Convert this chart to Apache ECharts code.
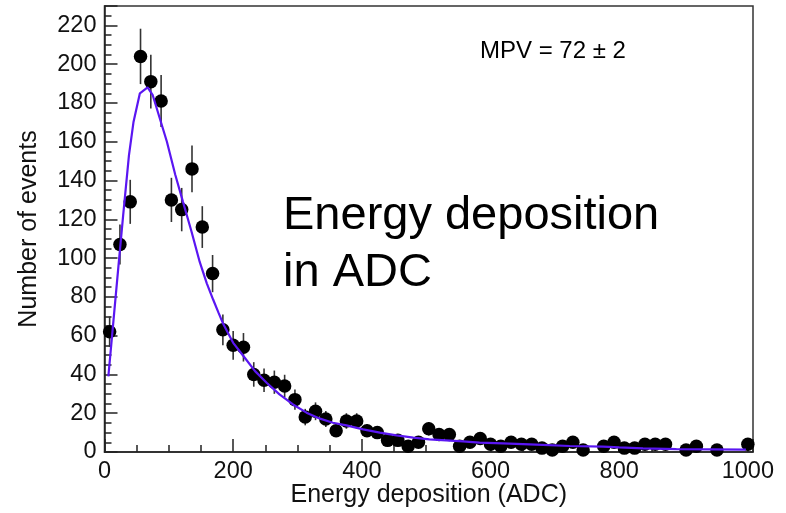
<!DOCTYPE html>
<html><head><meta charset="utf-8">
<script src="https://cdn.jsdelivr.net/npm/echarts@6/dist/echarts.min.js"></script>
<style>html,body{margin:0;padding:0;background:#fff}#c{width:786px;height:513px}</style>
</head><body><div id="c"></div>
<script>
// Histogram bin centres (ADC) and counts (null = empty bin)
const binCenters = [8,24,40,56,72,88,104,120,136,152,168,184,200,216,232,248,264,280,296,312,328,344,360,376,392,408,424,440,456,472,488,504,520,536,552,568,584,600,616,632,648,664,680,696,712,728,744,760,776,792,808,824,840,856,872,888,904,920,936,952,968,984,1000];
const counts = [62,107,129,204,191,181,130,125,146,116,92,63,55,54,40,37,36,34,27,18,21,17,11,16,16,11,10,6,6,3,5,12,9,9,3,5,7,4,3,5,4,4,2,1,3,5,1,null,3,5,2,2,4,4,4,null,1,3,null,1,null,null,4];
// Fit curve
const fitX = [6,14,22,29,38,45,55,67,75,86,97,110,122,135,148,159,169,177,185,200,218,234,252,272,293,314,335,355,376,402,428,454,480,505,531,557,583,619,671,723,775,800,837,889,940,997];
const fitY = [39,68,97,122,153,170,185,188,184,172,160,143,129,114,98,87,78.5,72,65.7,56.3,48.6,41.7,35.7,29.7,24.5,20.3,17.2,15.1,13.7,11.7,10,8.6,7.4,6.5,6,5.5,4.8,4.4,3.8,3.1,2.8,2.4,1.9,1.5,1.4,1.2];
const xTickLabels = [0,200,400,600,800,1000];
const yTickLabels = [0,20,40,60,80,100,120,140,160,180,200,220];

const FONT = '"Liberation Sans", Arial, Helvetica, sans-serif';
const points = [];
binCenters.forEach((x,i)=>{ if(counts[i]!==null) points.push([x,counts[i]]); });
const errData = points.map(p=>[p[0], p[1]-Math.sqrt(p[1]), p[1]+Math.sqrt(p[1])]);
const fitData = fitX.map((x,i)=>[x,fitY[i]]);

const axisCol = '#222';
const chart = echarts.init(document.getElementById('c'), null, {renderer:'canvas'});
chart.setOption({
  animation:false,
  backgroundColor:'#fff',
  grid:{left:104.5, right:33, top:6, bottom:60.3, show:true, borderColor:'#333', borderWidth:1.5, backgroundColor:'transparent', containLabel:false},
  xAxis:[
    {type:'value', min:0, max:1008, interval:200, position:'bottom',
     axisLine:{show:true, onZero:false, lineStyle:{color:axisCol, width:1.5}},
     axisTick:{show:true, inside:true, length:13, lineStyle:{color:axisCol, width:1.5}},
     axisLabel:{margin:8, fontSize:23.5, color:'#111', fontFamily:FONT, showMaxLabel:true, hideOverlap:false,
       formatter:v=> xTickLabels.indexOf(v)>=0 ? String(v) : ''},
     splitLine:{show:false},
     name:'Energy deposition (ADC)', nameLocation:'middle', nameGap:31, nameMoveOverlap:false,
     nameTextStyle:{fontSize:25, color:'#111', fontFamily:FONT}},
    {type:'value', min:0, max:1008, interval:50, position:'bottom',
     axisLine:{show:false}, axisLabel:{show:false}, splitLine:{show:false},
     axisTick:{show:true, inside:true, length:7, lineStyle:{color:axisCol, width:1.5}}}
  ],
  yAxis:[
    {type:'value', min:0, max:230, interval:20, position:'left',
     axisLine:{show:true, onZero:false, lineStyle:{color:axisCol, width:1.5}},
     axisTick:{show:true, inside:true, length:13, lineStyle:{color:axisCol, width:1.5}},
     axisLabel:{margin:8, fontSize:23.5, color:'#111', fontFamily:FONT, hideOverlap:false,
       formatter:v=> yTickLabels.indexOf(v)>=0 ? String(v) : ''},
     splitLine:{show:false},
     name:'Number of events', nameLocation:'middle', nameGap:63, nameMoveOverlap:false,
     nameTextStyle:{fontSize:25, color:'#111', fontFamily:FONT}},
    {type:'value', min:0, max:230, interval:5, position:'left',
     axisLine:{show:false}, axisLabel:{show:false}, splitLine:{show:false},
     axisTick:{show:true, inside:true, length:7, lineStyle:{color:axisCol, width:1.5}}}
  ],
  series:[
    {type:'custom', xAxisIndex:0, yAxisIndex:0, z:2, data:errData, encode:{x:0, y:[1,2]},
     renderItem:(params, api)=>{
       const x = api.value(0);
       const lo = api.coord([x, api.value(1)]);
       const hi = api.coord([x, api.value(2)]);
       return {type:'line', shape:{x1:lo[0], y1:lo[1], x2:hi[0], y2:hi[1]}, style:{stroke:'#333', lineWidth:1.6}};
     }},
    {type:'scatter', xAxisIndex:0, yAxisIndex:0, z:3, data:points, symbol:'circle', symbolSize:13.5,
     itemStyle:{color:'#000', opacity:1}},
    {type:'line', xAxisIndex:0, yAxisIndex:0, z:4, data:fitData, showSymbol:false, symbol:'none', smooth:false,
     lineStyle:{color:'#5a16f2', width:2.2}}
  ],
  graphic:[
    {type:'text', x:480, y:51.7, z:10, style:{text:'MPV = 72 ± 2', font:'24px '+FONT, fill:'#000', align:'left', verticalAlign:'middle'}},
    {type:'text', x:283, y:216, z:10, style:{text:'Energy deposition', font:'47px '+FONT, fill:'#000', align:'left', verticalAlign:'middle'}},
    {type:'text', x:283, y:273, z:10, style:{text:'in ADC', font:'47px '+FONT, fill:'#000', align:'left', verticalAlign:'middle'}}
  ]
});
</script></body></html>
